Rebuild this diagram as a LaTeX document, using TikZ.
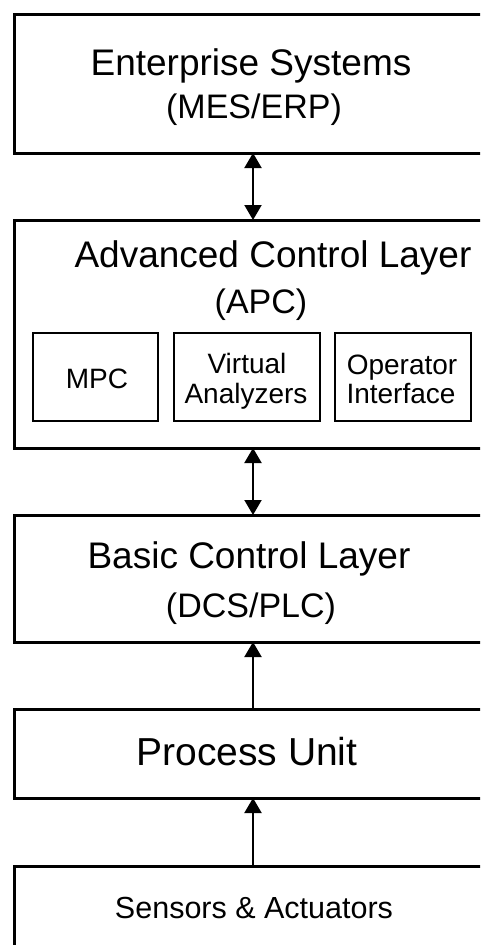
\documentclass[tikz,border=0pt]{standalone}
\usepackage{fontspec}
\setmainfont{Liberation Sans}
\usetikzlibrary{arrows.meta}
\begin{document}
\begin{tikzpicture}[x=1pt,y=-1pt,
  layer/.style={draw, line width=3pt, anchor=north west, inner sep=0pt, outer sep=0pt},
  subbox/.style={draw, line width=2.8pt, anchor=north west, inner sep=0pt, outer sep=0pt},
  lbl/.style={anchor=base, inner sep=0pt},
  bigtxt/.style={lbl, font=\fontsize{37}{44}\selectfont},
  subtxt/.style={lbl, font=\fontsize{34}{40}\selectfont},
  smalltxt/.style={lbl, font=\fontsize{28}{34}\selectfont},
  tip/.tip={Triangle[length=15pt,width=17pt]},
  link/.style={line width=2pt, -tip},
  bilink/.style={line width=2pt, tip-tip}]
\useasboundingbox[clip] (0,0) rectangle (480,945);
\fill[white] (0,0) rectangle (480,945);

% layer boxes (running off the right and bottom edges)
\node[layer, minimum width=486pt, minimum height=139pt] (ent) at (14,14) {};
\node[layer, minimum width=486pt, minimum height=228pt] (apc) at (14,220) {};
\node[layer, minimum width=486pt, minimum height=127pt] (bcl) at (14,515) {};
\node[layer, minimum width=486pt, minimum height=89pt] (proc) at (14,709) {};
\node[layer, minimum width=486pt, minimum height=120pt] (sens) at (14,866) {};

% APC components
\node[subbox, minimum width=125pt, minimum height=88pt] (mpc) at (33,333) {};
\node[subbox, minimum width=146pt, minimum height=88pt] (va) at (174,333) {};
\node[subbox, minimum width=136pt, minimum height=88pt] (oi) at (335,333) {};

% labels
\node[bigtxt] (entT) at (251,75) {Enterprise Systems};
\node[subtxt] (entS) at (254,118) {(MES/ERP)};
\node[bigtxt] (apcT) at (273,267) {Advanced Control Layer};
\node[subtxt] (apcS) at (261,313) {(APC)};
\node[smalltxt] (mpcT) at (97,388) {MPC};
\node[smalltxt] (vaT1) at (247,373) {Virtual};
\node[smalltxt] (vaT2) at (246,403) {Analyzers};
\node[smalltxt] (oiT1) at (402,374) {Operator};
\node[smalltxt] (oiT2) at (401,403) {Interface};
\node[bigtxt] (bclT) at (249,568) {Basic Control Layer};
\node[subtxt] (bclS) at (251,617) {(DCS/PLC)};
\node[lbl, font=\fontsize{39}{46}\selectfont] (procT) at (247,765) {Process Unit};
\node[lbl, font=\fontsize{30.5}{36}\selectfont] (sensT) at (254,918) {Sensors \& Actuators};

% connectors
\coordinate (ax) at (253,0);
\draw[bilink] (ent.south -| ax) -- (apc.north -| ax);
\draw[bilink] (apc.south -| ax) -- (bcl.north -| ax);
\draw[link] (proc.north -| ax) -- (bcl.south -| ax);
\draw[link] (sens.north -| ax) -- (proc.south -| ax);
\end{tikzpicture}
\end{document}
